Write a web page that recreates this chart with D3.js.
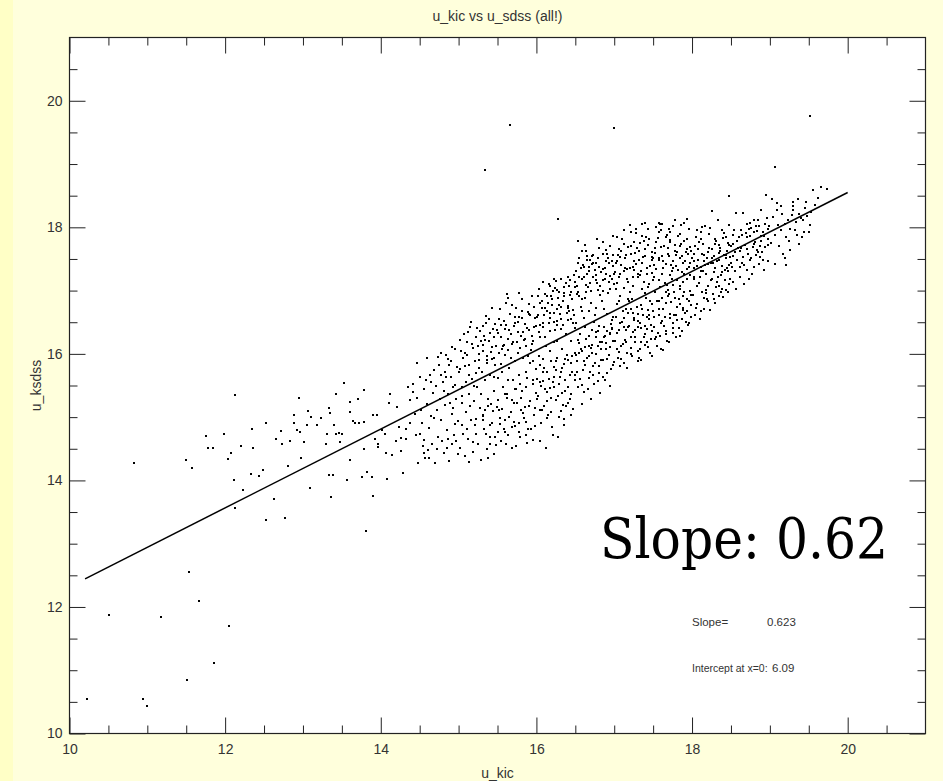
<!DOCTYPE html>
<html>
<head>
<meta charset="utf-8">
<script src="https://cdn.jsdelivr.net/npm/d3@7"></script>
<style>
  html, body { margin: 0; padding: 0; background: #FFFFDC; }
  svg { display: block; }
</style>
</head>
<body>
<svg width="943" height="781"></svg>
<script>
// fit result printed by the IDL routine
const slope = 0.623;
const intercept = 6.09;
const fitRange = [10.2, 20.0];

const xMajor = [10, 12, 14, 16, 18, 20];
const yMajor = [10, 12, 14, 16, 18, 20];

// [u_kic, u_sdss], grouped by region
const outliers = [[15.66,19.61],[17.00,19.57],[15.34,18.91],[16.28,18.13],[19.51,19.76],[19.06,18.95],[18.47,18.49],
  [11.53,12.55],[11.66,12.09],[10.51,11.87],[11.17,11.84],[12.05,11.70],[11.86,11.11],[11.51,10.84],[10.23,10.55],[10.94,10.54],[11.00,10.43],
  [17.39,18.07],[17.58,18.07],[17.28,17.97],[18.13,18.01],[18.26,18.26],[16.65,17.54],[15.35,16.60],[15.43,16.73],[16.23,17.18],[17.59,18.06],[17.72,17.77],[17.72,17.80]];

const sparseLeft = [[12.13,15.35],[10.83,14.28],[11.75,14.70],[11.98,14.74],[11.78,14.51],[11.84,14.51],[11.50,14.32],[11.58,14.20],[12.04,14.34],[12.08,14.43],
  [12.21,14.55],[12.36,14.51],[12.34,14.81],[12.52,14.90],[12.12,14.01],[12.23,13.85],[12.33,14.10],[12.44,14.07],[12.49,14.16],[12.13,13.56],
  [12.53,13.37],[12.77,13.41],[12.63,13.71],[12.72,14.78],[12.66,14.66],[12.73,14.57],[12.83,14.62],[12.89,15.04],[12.95,15.31],[12.88,14.90],
  [12.92,14.79],[12.96,14.77],[13.01,14.60],[13.05,14.87],[13.07,15.09],[13.10,15.00],[12.81,14.22],[12.98,14.36],[13.09,13.88],[13.18,14.87],
  [13.23,14.99],[13.29,14.58],[13.31,14.74],[13.34,15.14],[13.35,15.06],[13.34,14.09],[13.38,14.09],[13.36,13.73],[13.42,15.36],[13.40,14.88],
  [13.42,14.74],[13.46,14.75],[13.47,14.60],[13.50,14.74],[13.53,15.54],[13.56,14.01],[13.60,14.32],[13.61,15.08],[13.61,15.24],[13.64,14.94],
  [13.67,14.91],[13.71,15.28],[13.72,14.91],[13.78,14.92],[13.78,14.49],[13.79,15.43],[13.76,14.06],[13.82,14.13],[13.89,14.06],[13.90,13.76],
  [13.81,13.20],[13.90,15.04],[13.95,15.03],[13.93,14.66],[13.97,14.58],[13.97,14.53],[14.01,14.80],[14.06,14.73],[14.07,14.43],[14.08,14.03],
  [14.10,15.23],[14.12,15.37],[14.15,14.40],[14.19,14.62],[14.21,15.16],[14.23,14.85],[14.26,14.47],[14.26,14.67],[14.29,14.11],[14.33,14.82],
  [14.33,14.66],[14.35,15.48],[14.38,15.27],[14.41,15.40],[14.50,14.74],[14.55,14.64],[14.55,14.43],[14.61,14.48],[14.38,14.90]];

const band14 = [[14.42,15.52],[14.44,15.05],[14.45,14.72],[14.47,15.31],[14.48,14.28],[14.51,15.63],[14.52,15.12],[14.53,14.91],[14.56,15.45],[14.57,14.36],
  [14.58,15.58],[14.60,15.21],[14.62,14.83],[14.63,15.66],[14.64,15.02],[14.66,14.57],[14.67,15.38],[14.68,15.74],[14.70,14.27],[14.71,15.49],
  [14.72,15.11],[14.73,14.68],[14.75,15.83],[14.76,15.29],[14.77,14.95],[14.78,16.02],[14.80,15.56],[14.81,14.44],[14.82,15.19],[14.83,15.71],
  [14.85,14.79],[14.86,15.37],[14.87,15.92],[14.88,14.31],[14.90,15.63],[14.91,15.05],[14.92,14.58],[14.93,15.47],[14.95,16.08],[14.96,14.89],
  [14.97,15.28],[14.98,15.79],[14.99,14.41],[14.46,15.86],[14.54,14.55],[14.59,15.93],[14.69,14.98],[14.74,15.95],[14.79,14.62],[14.84,15.98],
  [14.89,15.22],[14.94,14.72],[14.65,15.55],[14.77,15.66],[14.88,15.83],[14.91,16.11],[14.62,14.35],[14.72,14.49],[14.85,14.51],[14.97,14.62],
  [14.81,15.42],[14.84,15.63],[14.87,14.66],[14.90,15.88],[14.93,15.15],[14.96,15.51],[14.99,14.94]];

const band15 = [[15.01,15.71],[15.02,14.52],[15.03,16.05],[15.04,15.22],[15.05,14.87],[15.06,15.94],[15.07,16.31],[15.08,14.39],[15.09,15.55],[15.10,15.08],
  [15.11,16.18],[15.12,14.66],[15.13,15.82],[15.14,15.37],[15.15,16.42],[15.16,14.95],[15.17,15.61],[15.18,14.45],[15.19,16.09],[15.20,15.26],
  [15.21,15.88],[15.22,14.73],[15.23,16.27],[15.24,15.47],[15.25,14.58],[15.26,15.99],[15.27,15.14],[15.28,16.36],[15.29,14.33],[15.30,15.72],
  [15.31,15.03],[15.32,16.14],[15.33,14.81],[15.34,15.58],[15.35,16.48],[15.36,14.49],[15.37,15.91],[15.38,15.29],[15.39,16.21],[15.40,14.68],
  [15.41,15.66],[15.42,16.03],[15.43,14.91],[15.44,16.39],[15.45,15.41],[15.46,14.42],[15.47,15.83],[15.48,16.12],[15.49,15.16],[15.50,14.77],
  [15.02,16.22],[15.05,15.48],[15.08,15.81],[15.12,16.35],[15.15,15.17],[15.19,14.61],[15.22,15.69],[15.25,16.12],[15.29,15.36],[15.32,14.95],
  [15.36,15.86],[15.39,16.55],[15.42,15.21],[15.45,16.27],[15.48,14.56],[15.06,14.73],[15.11,15.98],[15.16,16.51],[15.21,14.88],[15.26,15.77],
  [15.31,16.44],[15.34,15.12],[15.38,14.35],[15.43,15.92],[15.47,16.47],[15.13,14.29],[15.24,16.41],[15.33,16.29],[15.41,14.57],[15.46,15.63],
  [15.02,15.76],[15.05,15.33],[15.08,16.02],[15.11,14.82],[15.14,15.67],[15.17,16.16],[15.20,15.49],[15.23,14.97],[15.26,15.91],[15.29,16.21],
  [15.31,16.05],[15.34,16.22],[15.37,15.97],[15.40,16.33],[15.43,16.11],[15.46,15.94],[15.49,16.38],
  [15.32,15.02],[15.35,14.74],[15.38,15.18],[15.41,14.88],[15.44,15.09],[15.47,14.69],[15.50,15.27]];

const band155 = [[15.51,16.33],[15.52,15.12],[15.53,16.71],[15.54,15.84],[15.55,14.63],[15.56,16.08],[15.57,15.47],[15.58,16.52],[15.59,14.95],[15.60,15.98],
  [15.61,16.81],[15.62,15.31],[15.63,16.24],[15.64,14.72],[15.65,15.77],[15.66,16.63],[15.67,15.08],[15.68,16.15],[15.69,14.51],[15.70,15.59],
  [15.71,16.44],[15.72,15.89],[15.73,14.86],[15.74,16.73],[15.75,15.23],[15.76,16.02],[15.77,15.66],[15.78,16.58],[15.79,14.68],[15.80,16.29],
  [15.81,15.41],[15.82,16.87],[15.83,15.94],[15.84,14.98],[15.85,16.47],[15.86,15.72],[15.87,16.13],[15.88,14.59],[15.89,16.66],[15.90,15.18],
  [15.91,16.38],[15.92,15.85],[15.93,14.81],[15.94,16.91],[15.95,15.52],[15.96,16.21],[15.97,15.03],[15.98,16.57],[15.99,15.76],
  [15.51,15.62],[15.53,14.89],[15.55,16.46],[15.57,16.12],[15.59,15.36],[15.61,14.57],[15.63,16.88],[15.65,16.37],[15.67,15.93],[15.69,15.27],
  [15.71,14.93],[15.73,16.59],[15.75,16.19],[15.77,14.77],[15.79,15.53],[15.81,16.68],[15.83,16.34],[15.85,15.16],[15.87,14.71],[15.89,15.97],
  [15.91,16.79],[15.93,16.06],[15.95,14.64],[15.97,16.42],[15.99,15.38],
  [15.52,16.55],[15.56,15.71],[15.60,16.39],[15.64,15.58],[15.68,16.77],[15.72,15.45],[15.76,16.51],[15.80,15.11],[15.84,16.22],[15.88,15.62],
  [15.92,16.61],[15.96,15.88],[15.58,14.81],[15.74,14.55],[15.86,14.92],[15.98,14.86],[15.62,16.95],[15.78,16.96],[15.94,16.16],
  [15.52,16.02],[15.55,16.27],[15.58,16.14],[15.61,16.45],[15.64,16.06],[15.67,16.31],[15.70,16.18],[15.73,16.49],[15.76,16.35],[15.79,16.09],
  [15.82,16.56],[15.85,16.24],[15.88,16.41],[15.91,16.63],[15.94,16.29],[15.97,16.74],[16.00,16.44],
  [15.53,14.98],[15.56,15.13],[15.59,14.77],[15.62,15.36],[15.65,15.01],[15.68,14.84],[15.71,15.22],[15.74,15.44],[15.77,14.91],[15.80,15.31],
  [15.83,15.07],[15.86,15.48],[15.89,14.82],[15.92,15.25],[15.95,15.59],[15.98,15.14]];

const band16 = [[16.01,16.58],[16.02,15.34],[16.03,17.02],[16.04,15.82],[16.05,16.27],[16.06,14.91],[16.07,16.84],[16.08,15.57],[16.09,16.43],[16.10,15.18],
  [16.11,16.95],[16.12,16.12],[16.13,15.71],[16.14,16.67],[16.15,15.03],[16.16,17.11],[16.17,15.46],[16.18,16.36],[16.19,15.89],[16.20,16.78],
  [16.21,14.72],[16.22,16.51],[16.23,15.63],[16.24,17.04],[16.25,15.27],[16.26,16.21],[16.27,15.94],[16.28,16.89],[16.29,15.52],[16.30,16.63],
  [16.31,15.09],[16.32,17.19],[16.33,15.77],[16.34,16.45],[16.35,14.88],[16.36,16.96],[16.37,15.41],[16.38,16.31],[16.39,15.98],[16.40,16.72],
  [16.41,15.22],[16.42,17.08],[16.43,15.66],[16.44,16.55],[16.45,15.86],[16.46,16.86],[16.47,15.13],[16.48,17.24],[16.49,15.59],[16.50,16.41],
  [16.01,15.61],[16.03,16.35],[16.05,15.11],[16.07,16.72],[16.09,15.92],[16.11,16.26],[16.13,14.98],[16.15,16.81],[16.17,16.04],[16.19,15.31],
  [16.21,16.99],[16.23,16.18],[16.25,15.74],[16.27,16.71],[16.29,15.01],[16.31,16.39],[16.33,16.08],[16.35,17.06],[16.37,15.58],[16.39,16.64],
  [16.41,15.91],[16.43,16.93],[16.45,15.36],[16.47,16.48],[16.49,16.02],
  [16.02,16.91],[16.06,15.49],[16.10,16.61],[16.14,15.26],[16.18,17.07],[16.22,15.79],[16.26,16.52],[16.30,15.63],[16.34,16.83],[16.38,15.17],
  [16.42,16.67],[16.46,15.71],[16.50,17.13],[16.04,14.63],[16.12,14.52],[16.20,14.84],[16.28,14.69],[16.36,14.97],[16.44,15.04],[16.08,17.14],
  [16.16,16.49],[16.24,16.38],[16.32,16.74],[16.40,17.21],[16.48,16.62],
  [16.03,15.97],[16.11,15.44],[16.19,16.92],[16.27,16.46],[16.35,15.84],[16.43,17.17],[16.05,16.46],[16.17,16.65],[16.29,16.97],[16.41,16.53],
  [16.09,15.71],[16.21,15.56],[16.33,15.38],[16.45,16.21],[16.25,17.15],
  [16.02,16.62],[16.05,16.81],[16.08,16.49],[16.11,16.73],[16.14,16.92],[16.17,16.56],[16.20,16.87],[16.23,16.64],[16.26,17.01],[16.29,16.78],
  [16.32,16.55],[16.35,16.91],[16.38,17.12],[16.41,16.76],[16.44,16.98],[16.47,16.69],[16.50,17.05],
  [16.01,15.28],[16.04,15.56],[16.07,15.12],[16.10,15.77],[16.13,15.39],[16.16,15.61],[16.19,15.08],[16.22,15.47],[16.25,15.88],[16.28,15.33],
  [16.31,15.71],[16.34,15.19],[16.37,15.92],[16.40,15.48],[16.43,15.29],[16.46,15.97],[16.49,15.67]];

const band165 = [[16.51,17.31],[16.52,15.88],[16.53,16.97],[16.54,16.22],[16.55,17.52],[16.56,15.61],[16.57,16.74],[16.58,17.18],[16.59,16.05],[16.60,17.41],
  [16.61,15.39],[16.62,16.88],[16.63,16.43],[16.64,17.63],[16.65,15.94],[16.66,17.06],[16.67,16.28],[16.68,17.37],[16.69,15.72],[16.70,16.81],
  [16.71,17.55],[16.72,16.14],[16.73,17.21],[16.74,15.53],[16.75,16.62],[16.76,17.44],[16.77,15.99],[16.78,17.12],[16.79,16.36],[16.80,17.68],
  [16.81,15.81],[16.82,16.93],[16.83,17.29],[16.84,16.19],[16.85,17.58],[16.86,15.64],[16.87,16.71],[16.88,17.36],[16.89,16.07],[16.90,17.47],
  [16.91,15.92],[16.92,16.96],[16.93,17.14],[16.94,16.31],[16.95,17.71],[16.96,15.76],[16.97,16.54],[16.98,17.39],[16.99,16.21],[17.00,17.26],
  [16.51,16.49],[16.53,15.47],[16.55,16.91],[16.57,16.08],[16.59,17.62],[16.61,16.57],[16.63,15.83],[16.65,17.27],[16.67,16.67],[16.69,17.49],
  [16.71,16.02],[16.73,15.66],[16.75,17.33],[16.77,16.73],[16.79,17.01],[16.81,16.44],[16.83,15.91],[16.85,17.17],[16.87,16.26],[16.89,17.64],
  [16.91,16.63],[16.93,15.98],[16.95,17.03],[16.97,16.39],[16.99,17.56],
  [16.52,17.08],[16.56,16.32],[16.60,15.74],[16.64,16.97],[16.68,16.13],[16.72,17.42],[16.76,16.27],[16.80,15.69],[16.84,16.84],[16.88,15.58],
  [16.92,17.52],[16.96,16.47],[16.54,17.78],[16.62,17.72],[16.70,15.28],[16.78,17.82],[16.86,17.77],[16.94,15.49],[16.98,17.87],[16.58,15.21],
  [16.66,15.44],[16.74,16.51],[16.82,15.38],[16.90,16.17],[16.98,15.83],
  [16.53,17.44],[16.57,17.36],[16.61,17.21],[16.65,17.48],[16.69,17.12],[16.73,17.57],[16.77,17.25],[16.81,17.38],[16.85,16.99],[16.89,17.27],
  [16.93,17.43],[16.97,17.18],[16.55,16.17],[16.63,16.11],[16.71,16.38],[16.79,16.12],[16.87,16.42],[16.95,16.33],[16.67,15.96],[16.83,16.07],
  [16.91,16.36],[16.99,16.58],[16.59,16.67],[16.75,15.86],[16.51,15.98],
  [16.52,16.94],[16.55,17.21],[16.58,16.86],[16.61,17.38],[16.64,17.09],[16.67,17.31],[16.70,16.99],[16.73,17.44],[16.76,17.16],[16.79,17.52],
  [16.82,17.07],[16.85,17.34],[16.88,17.19],[16.91,17.58],[16.94,17.23],[16.97,17.46],[17.00,17.11],
  [16.52,15.72],[16.55,16.02],[16.58,15.51],[16.61,15.89],[16.64,16.23],[16.67,15.62],[16.70,16.09],[16.73,15.81],[16.76,16.34],[16.79,15.57],
  [16.82,16.18],[16.85,15.91],[16.88,16.29],[16.91,15.69],[16.94,16.11],[16.97,16.41],[17.00,15.87]];

const band17 = [[17.01,16.21],[17.02,17.43],[17.03,16.79],[17.04,17.12],[17.05,15.94],[17.06,17.66],[17.07,16.48],[17.08,17.27],[17.09,16.12],[17.10,17.81],
  [17.11,16.67],[17.12,17.04],[17.13,15.86],[17.14,17.51],[17.15,16.38],[17.16,17.19],[17.17,16.02],[17.18,17.69],[17.19,16.83],[17.20,17.35],
  [17.21,16.26],[17.22,17.58],[17.23,15.97],[17.24,17.08],[17.25,16.57],[17.26,17.77],[17.27,16.18],[17.28,17.42],[17.29,16.74],[17.30,17.21],
  [17.31,16.05],[17.32,17.63],[17.33,16.49],[17.34,17.31],[17.35,15.91],[17.36,17.86],[17.37,16.62],[17.38,17.14],[17.39,16.31],[17.40,17.54],
  [17.41,16.88],[17.42,17.26],[17.43,16.11],[17.44,17.72],[17.45,16.55],[17.46,17.39],[17.47,16.24],[17.48,17.61],[17.49,16.79],[17.50,17.17],
  [17.01,17.29],[17.03,16.33],[17.05,17.56],[17.07,16.92],[17.09,17.41],[17.11,16.15],[17.13,17.73],[17.15,16.71],[17.17,17.34],[17.19,16.44],
  [17.21,17.92],[17.23,16.86],[17.25,17.46],[17.27,16.37],[17.29,17.68],[17.31,16.63],[17.33,17.24],[17.35,16.41],[17.37,17.53],[17.39,16.96],
  [17.41,17.84],[17.43,16.69],[17.45,17.11],[17.47,16.46],[17.49,17.48],
  [17.02,16.58],[17.06,16.03],[17.10,16.51],[17.14,16.22],[17.18,16.64],[17.22,16.09],[17.26,16.53],[17.30,15.88],[17.34,16.77],[17.38,16.27],
  [17.42,16.58],[17.46,16.01],[17.50,16.68],[17.04,17.84],[17.12,17.96],[17.20,18.03],[17.28,17.91],[17.36,18.05],[17.44,17.97],[17.08,15.81],
  [17.16,15.78],[17.24,16.34],[17.32,15.93],[17.40,16.14],[17.48,15.96],
  [17.02,17.02],[17.08,17.53],[17.14,17.36],[17.20,16.97],[17.26,17.32],[17.32,17.49],[17.38,17.79],[17.44,17.06],[17.50,17.52],[17.06,16.83],
  [17.18,16.87],[17.30,16.43],[17.42,16.39],[17.24,17.22],[17.36,17.02],[17.48,17.28],[17.12,16.42],[17.34,16.19],[17.46,16.84],[17.22,16.71],
  [17.03,17.47],[17.06,17.22],[17.09,17.63],[17.12,17.31],[17.15,17.56],[17.18,17.14],[17.21,17.71],[17.24,17.38],[17.27,17.59],[17.30,17.27],
  [17.33,17.75],[17.36,17.44],[17.39,17.66],[17.42,17.35],[17.45,17.81],[17.48,17.53],
  [17.03,16.07],[17.06,16.38],[17.09,15.92],[17.12,16.56],[17.15,16.18],[17.18,16.43],[17.21,15.99],[17.24,16.65],[17.27,16.27],[17.30,16.52],
  [17.33,16.08],[17.36,16.71],[17.39,16.44],[17.42,16.19],[17.45,16.62],[17.48,16.36]];

const band175 = [[17.51,16.43],[17.52,17.68],[17.53,16.97],[17.54,17.34],[17.55,16.12],[17.56,17.83],[17.57,16.71],[17.58,17.49],[17.59,16.29],[17.60,17.96],
  [17.61,16.88],[17.62,17.27],[17.63,16.06],[17.64,17.71],[17.65,16.59],[17.66,17.42],[17.67,16.36],[17.68,17.88],[17.69,17.01],[17.70,17.55],
  [17.71,16.19],[17.72,17.78],[17.73,16.82],[17.74,17.31],[17.75,16.48],[17.76,18.02],[17.77,16.97],[17.78,17.63],[17.79,16.27],[17.80,17.39],
  [17.81,16.74],[17.82,17.86],[17.83,16.41],[17.84,17.52],[17.85,17.08],[17.86,17.74],[17.87,16.55],[17.88,17.44],[17.89,16.92],[17.90,18.07],
  [17.91,16.64],[17.92,17.61],[17.93,17.18],[17.94,17.81],[17.95,16.46],[17.96,17.37],[17.97,16.99],[17.98,17.69],[17.99,16.78],[18.00,17.51],
  [17.51,17.22],[17.53,17.59],[17.55,16.84],[17.57,17.93],[17.59,17.06],[17.61,16.52],[17.63,17.47],[17.65,17.12],[17.67,16.81],[17.69,17.67],
  [17.71,16.94],[17.73,17.41],[17.75,17.09],[17.77,16.61],[17.79,17.57],[17.81,17.16],[17.83,16.87],[17.85,17.71],[17.87,17.29],[17.89,16.69],
  [17.91,17.47],[17.93,16.86],[17.95,17.58],[17.97,17.24],[17.99,16.58],
  [17.52,16.23],[17.56,16.33],[17.60,16.08],[17.64,16.44],[17.68,16.21],[17.72,16.57],[17.76,16.33],[17.80,16.61],[17.84,16.29],[17.88,16.72],
  [17.92,16.51],[17.96,16.84],[17.54,18.01],[17.62,18.06],[17.70,17.98],[17.78,18.11],[17.86,18.04],[17.94,18.13],[17.58,17.16],[17.66,16.98],
  [17.74,17.19],[17.82,17.33],[17.90,17.26],[17.98,17.44],[17.62,17.54],[17.72,17.25],[17.84,17.02],[17.94,17.34],[17.68,17.09],[17.58,16.62],
  [17.88,17.14],[17.76,17.36],
  [17.51,17.41],[17.54,17.77],[17.57,17.52],[17.60,17.69],[17.63,17.36],[17.66,17.84],[17.69,17.58],[17.72,17.93],[17.75,17.47],[17.78,17.72],
  [17.81,17.61],[17.84,17.89],[17.87,17.55],[17.90,17.79],[17.93,17.66],[17.96,17.97],[17.99,17.62],
  [17.51,16.58],[17.54,16.27],[17.57,16.84],[17.60,16.49],[17.63,16.71],[17.66,16.32],[17.69,16.91],[17.72,16.63],[17.75,16.41],[17.78,16.88],
  [17.81,16.54],[17.84,16.79],[17.87,16.36],[17.90,16.97],[17.93,16.67],[17.96,16.48],[17.99,16.93]];

const band18 = [[18.01,16.93],[18.02,17.58],[18.03,17.21],[18.04,16.62],[18.05,17.84],[18.06,17.39],[18.07,16.79],[18.08,17.66],[18.09,17.12],[18.10,16.55],
  [18.11,17.93],[18.12,17.31],[18.13,16.98],[18.14,17.73],[18.15,17.46],[18.16,16.71],[18.17,18.02],[18.18,17.27],[18.19,16.86],[18.20,17.61],
  [18.21,17.08],[18.22,17.89],[18.23,16.69],[18.24,17.43],[18.25,17.19],[18.27,16.95],[18.28,17.54],[18.29,17.36],[18.30,16.81],[18.31,17.78],
  [18.32,17.13],[18.33,18.12],[18.34,17.49],[18.35,16.91],[18.36,17.68],[18.37,17.24],[18.38,17.96],[18.39,17.02],[18.40,16.90],[18.41,17.57],
  [18.42,17.33],[18.43,17.84],[18.44,17.01],[18.45,17.63],[18.46,16.97],[18.47,17.41],[18.48,18.04],[18.49,17.18],[18.50,17.71],
  [18.03,17.47],[18.07,17.95],[18.11,17.38],[18.15,16.88],[18.19,17.52],[18.23,17.99],[18.27,17.44],[18.31,17.06],[18.35,17.59],[18.39,17.29],
  [18.43,17.52],[18.47,17.11],[18.05,16.72],[18.13,17.58],[18.21,16.83],[18.29,17.81],[18.37,16.98],[18.45,17.36],[18.09,17.77],[18.17,17.41],
  [18.25,17.66],[18.33,17.22],[18.41,17.91],[18.49,17.53],[18.02,17.18],[18.18,17.01],[18.34,17.72],[18.46,17.76],[18.12,16.67],[18.28,16.86],
  [18.02,17.36],[18.04,17.71],[18.06,17.08],[18.08,17.49],[18.10,17.22],[18.12,17.82],[18.14,17.31],[18.16,17.57],[18.18,16.96],[18.20,17.42],
  [18.22,17.67],[18.24,17.17],[18.26,17.51],[18.28,17.29],[18.30,17.74],[18.32,17.46],[18.34,17.07],[18.36,17.62],[18.38,17.39],[18.40,17.83],
  [18.42,17.16],[18.44,17.56],[18.46,17.31],[18.48,17.72],[18.50,17.44]];

const band185 = [[18.51,17.37],[18.52,17.88],[18.53,17.14],[18.55,17.61],[18.56,18.22],[18.57,17.02],[18.58,17.49],[18.60,17.84],[18.61,17.21],[18.62,17.37],
  [18.63,17.96],[18.65,17.53],[18.66,18.22],[18.67,17.11],[18.68,17.72],[18.70,17.32],[18.71,18.05],[18.72,17.58],[18.74,18.07],[18.74,17.48],
  [18.75,17.86],[18.77,17.26],[18.78,17.69],[18.79,17.37],[18.80,18.12],[18.82,17.57],[18.83,17.64],[18.84,17.94],[18.85,18.11],[18.86,17.42],
  [18.87,17.53],[18.88,17.78],[18.89,18.28],[18.90,17.61],[18.91,17.92],[18.92,17.33],[18.94,17.69],[18.95,18.51],[18.96,18.14],[18.97,17.81],
  [18.98,17.47],[18.99,18.02],[18.54,17.95],[18.59,17.67],[18.64,17.44],[18.69,17.91],[18.73,17.18],[18.76,17.99],[18.81,17.77],[18.86,18.02],
  [18.93,17.86],[18.53,17.73],[18.63,17.68],[18.71,17.84],[18.79,17.93],[18.87,17.71],[18.97,17.97],
  [18.52,17.54],[18.55,17.31],[18.58,17.79],[18.61,17.62],[18.64,17.88],[18.67,17.41],[18.70,17.66],[18.73,17.97],[18.76,17.52],[18.79,17.74],
  [18.82,18.02],[18.85,17.61],[18.88,17.87],[18.91,17.49],[18.94,18.06],[18.97,17.72]];

const band19 = [[19.03,18.44],[19.04,18.17],[19.06,17.42],[19.07,17.88],[19.09,18.38],[19.09,18.28],[19.11,18.03],[19.12,17.71],[19.14,17.96],[19.16,18.21],
  [19.17,17.58],[19.19,18.06],[19.19,17.52],[19.21,17.84],[19.23,18.12],[19.24,17.79],[19.26,17.98],[19.26,17.64],[19.28,18.19],[19.30,18.40],
  [19.30,18.33],[19.30,18.27],[19.32,17.95],[19.33,18.09],[19.35,17.88],[19.37,18.21],[19.38,17.74],[19.40,18.15],[19.41,17.85],[19.43,18.11],
  [19.44,17.92],[19.45,18.31],[19.47,18.40],[19.48,18.18],[19.50,17.93],[19.51,18.03],[19.53,18.24],[19.56,18.59],[19.58,18.35],[19.62,18.47],
  [19.66,18.64],[19.73,18.61],[19.02,17.76],[19.14,18.33],[19.36,18.44],[19.21,17.41]];

const stars = [].concat(outliers, sparseLeft, band14, band15, band155, band16, band165, band17, band175, band18, band185, band19);

const svg = d3.select("svg");
const width = +svg.attr("width");
const height = +svg.attr("height");

const sans = "Liberation Sans, DejaVu Sans, sans-serif";

// page background: slightly stronger yellow strip on the left edge
svg.append("rect").attr("width", 13).attr("height", height).attr("fill", "#FFFFC6");

const x = d3.scaleLinear().domain([10, 21]).range([69.5, 925.5]);
const y = d3.scaleLinear().domain([10, 21]).range([733.5, 37.5]);

svg.append("rect")
    .attr("x", x(10)).attr("y", y(21))
    .attr("width", x(21) - x(10)).attr("height", y(10) - y(21))
    .attr("fill", "#fff");

// points (small square dots like the IDL psym=3)
svg.append("g")
    .selectAll("rect")
    .data(stars)
    .enter()
    .append("rect")
    .attr("x", d => Math.round(x(d[0])) - 1)
    .attr("y", d => Math.round(y(d[1])) - 1)
    .attr("width", 2)
    .attr("height", 2)
    .attr("fill", "#000");

// linear fit
svg.append("line")
    .attr("x1", x(fitRange[0])).attr("y1", y(intercept + slope * fitRange[0]))
    .attr("x2", x(fitRange[1])).attr("y2", y(intercept + slope * fitRange[1]))
    .attr("stroke", "#000")
    .attr("stroke-width", 1.5);

const minorX = d3.range(10.5, 21, 0.5).filter(v => v % 2 !== 0);
const minorY = d3.range(10.5, 21, 0.5).filter(v => v % 2 !== 0);

function styleAxis(g) {
    g.select(".domain").remove();
    g.selectAll("line").attr("stroke", "#222");
    g.selectAll("text")
        .attr("font-family", sans)
        .attr("font-size", 14)
        .attr("fill", "#333");
}

// bottom
svg.append("g").attr("transform", `translate(0,${y(10)})`)
    .call(d3.axisBottom(x).tickValues(xMajor).tickSizeInner(-16).tickSizeOuter(0).tickPadding(11).tickFormat(d3.format("d")))
    .call(styleAxis);
svg.append("g").attr("transform", `translate(0,${y(10)})`)
    .call(d3.axisBottom(x).tickValues(minorX).tickSizeInner(-8).tickSizeOuter(0).tickFormat(""))
    .call(styleAxis);
// top
svg.append("g").attr("transform", `translate(0,${y(21)})`)
    .call(d3.axisTop(x).tickValues(xMajor).tickSizeInner(-16).tickSizeOuter(0).tickFormat(""))
    .call(styleAxis);
svg.append("g").attr("transform", `translate(0,${y(21)})`)
    .call(d3.axisTop(x).tickValues(minorX).tickSizeInner(-8).tickSizeOuter(0).tickFormat(""))
    .call(styleAxis);
// left
svg.append("g").attr("transform", `translate(${x(10)},0)`)
    .call(d3.axisLeft(y).tickValues(yMajor).tickSizeInner(-16).tickSizeOuter(0).tickPadding(7).tickFormat(d3.format("d")))
    .call(styleAxis);
svg.append("g").attr("transform", `translate(${x(10)},0)`)
    .call(d3.axisLeft(y).tickValues(minorY).tickSizeInner(-8).tickSizeOuter(0).tickFormat(""))
    .call(styleAxis);
// right
svg.append("g").attr("transform", `translate(${x(21)},0)`)
    .call(d3.axisRight(y).tickValues(yMajor).tickSizeInner(-16).tickSizeOuter(0).tickFormat(""))
    .call(styleAxis);
svg.append("g").attr("transform", `translate(${x(21)},0)`)
    .call(d3.axisRight(y).tickValues(minorY).tickSizeInner(-8).tickSizeOuter(0).tickFormat(""))
    .call(styleAxis);

// frame
svg.append("rect")
    .attr("x", x(10)).attr("y", y(21))
    .attr("width", x(21) - x(10)).attr("height", y(10) - y(21))
    .attr("fill", "none")
    .attr("stroke", "#222")
    .attr("stroke-width", 1.2);

// titles
function label(xp, yp, txt, size) {
    return svg.append("text")
        .attr("x", xp).attr("y", yp)
        .attr("font-family", sans)
        .attr("font-size", size)
        .attr("fill", "#333")
        .text(txt);
}

label((x(10) + x(21)) / 2, 21, "u_kic vs u_sdss (all!)", 14).attr("text-anchor", "middle");
label((x(10) + x(21)) / 2, 778, "u_kic", 14).attr("text-anchor", "middle");
label(0, 0, "u_ksdss", 14)
    .attr("text-anchor", "middle")
    .attr("transform", `translate(41,${(y(10) + y(21)) / 2}) rotate(-90)`);

// annotation printed by the fit
label(692, 626, "Slope=", 11.5);
label(767, 626, slope.toFixed(3), 11.5);
label(692, 672, "Intercept at x=0:", 10.5);
label(772, 672, intercept.toFixed(2), 11.5);

// big overlay label
svg.append("text")
    .attr("x", 600).attr("y", 558)
    .attr("font-family", "DejaVu Serif, Liberation Serif, serif")
    .attr("font-size", 56)
    .attr("fill", "#000")
    .attr("textLength", 288)
    .attr("lengthAdjust", "spacingAndGlyphs")
    .text("Slope: " + slope.toFixed(2));
</script>
</body>
</html>
